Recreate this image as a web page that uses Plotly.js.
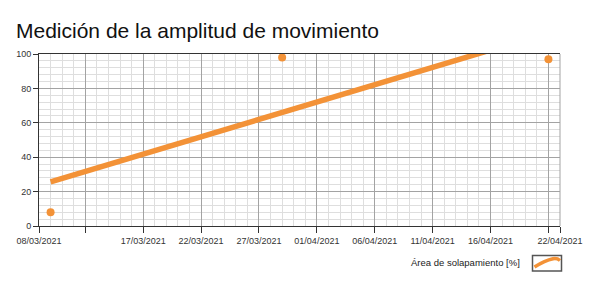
<!DOCTYPE html>
<html>
<head>
<meta charset="utf-8">
<script src="https://cdn.plot.ly/plotly-3.0.1.min.js"></script>
<style>html,body{margin:0;padding:0;background:#fff;}#chart{width:602px;height:296px;}</style>
</head>
<body>
<div id="chart"></div>
<script>
// ---- data ----
const pointDates  = ['2021-03-09', '2021-03-29', '2021-04-21'];
const pointValues = [8, 98, 97];
const trendDates  = ['2021-03-09', '2021-04-21'];
const trendValues = [25.7, 112.4];
const tickDates   = ['2021-03-08','2021-03-12','2021-03-17','2021-03-22','2021-03-27','2021-04-01','2021-04-06','2021-04-11','2021-04-16','2021-04-21','2021-04-22'];
const tickLabels  = ['08/03/2021','','17/03/2021','22/03/2021','27/03/2021','01/04/2021','06/04/2021','11/04/2021','16/04/2021','','22/04/2021'];
const seriesName  = 'Área de solapamiento [%]';
const chartTitle  = 'Medición de la amplitud de movimiento';

// ---- layout geometry ----
const W = 602, H = 296;
const M = {l: 39, r: 42, t: 54, b: 70};
const PW = W - M.l - M.r, PH = H - M.t - M.b;
const px = x => (x - M.l) / PW;
const py = y => (H - M.b - y) / PH;

const orange = '#F39237';
const font = 'Liberation Sans, Arial, sans-serif';

const traces = [
  {
    x: trendDates, y: trendValues, type: 'scatter', mode: 'lines',
    line: {color: orange, width: 5.5}, name: seriesName, hoverinfo: 'skip', showlegend: false
  },
  {
    x: pointDates, y: pointValues, type: 'scatter', mode: 'markers',
    marker: {color: orange, size: 8}, cliponaxis: false, showlegend: false
  }
];

const legendPath = 'M ' + px(534.5) + ' ' + py(267) +
  ' Q ' + px(545) + ' ' + py(260.5) + ' ' + px(553) + ' ' + py(258.8) +
  ' Q ' + px(557) + ' ' + py(258) + ' ' + px(560) + ' ' + py(260.5);

const layout = {
  width: W, height: H,
  margin: M,
  paper_bgcolor: '#fff', plot_bgcolor: '#fff',
  font: {family: font, size: 9, color: '#333'},
  showlegend: false,
  title: {
    text: chartTitle,
    font: {family: font, size: 21, color: '#111'},
    xref: 'container', x: 16 / W, xanchor: 'left',
    yref: 'container', y: 1 - 30.5 / H, yanchor: 'middle'
  },
  xaxis: {
    type: 'date',
    range: ['2021-03-08', '2021-04-22'],
    tickmode: 'array', tickvals: tickDates, ticktext: tickLabels,
    ticks: 'outside', ticklen: 6, tickcolor: '#333', tickwidth: 1,
    tickfont: {family: font, size: 9, color: '#333'},
    showgrid: true, gridcolor: '#a3a3a3', gridwidth: 1,
    showline: true, linecolor: '#333', linewidth: 1, mirror: true,
    zeroline: false, fixedrange: true,
    minor: {dtick: 86400000, tick0: '2021-03-08', showgrid: true, gridcolor: '#dedede', gridwidth: 1, ticks: ''}
  },
  yaxis: {
    range: [0, 100], dtick: 20, tick0: 0,
    ticks: 'outside', ticklen: 5, tickcolor: '#333', tickwidth: 1,
    tickfont: {family: font, size: 9, color: '#333'},
    showgrid: true, gridcolor: '#a3a3a3', gridwidth: 1,
    showline: true, linecolor: '#333', linewidth: 1,
    zeroline: false, fixedrange: true,
    minor: {dtick: 4, showgrid: true, gridcolor: '#dedede', gridwidth: 1, ticks: ''}
  },
  shapes: [
    {type: 'line', xref: 'paper', yref: 'paper', x0: 1, x1: 1, y0: 0, y1: 1, line: {color: '#a3a3a3', width: 1}},
    {type: 'rect', xref: 'paper', yref: 'paper', x0: px(532.5), x1: px(561.5), y0: py(255.5), y1: py(271),
     line: {color: '#555', width: 1.5}, fillcolor: '#fff'},
    {type: 'path', xref: 'paper', yref: 'paper', path: legendPath, line: {color: orange, width: 3.5}}
  ],
  annotations: [
    {text: seriesName, xref: 'paper', yref: 'paper', x: px(522), y: py(262.7),
     xanchor: 'right', yanchor: 'middle', showarrow: false,
     font: {family: font, size: 9.5, color: '#222'}}
  ]
};

Plotly.newPlot('chart', traces, layout, {displayModeBar: false, staticPlot: true});
</script>
</body>
</html>
